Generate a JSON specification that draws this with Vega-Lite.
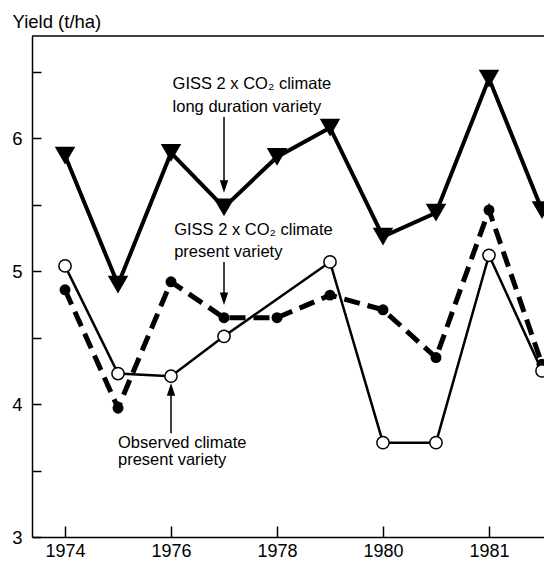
{
  "$schema": "https://vega.github.io/schema/vega-lite/v6.json",
  "width": 512,
  "height": 501,
  "autosize": "none",
  "padding": {"left": 32, "top": 36, "right": 0, "bottom": 24},
  "background": "white",
  "config": {
    "view": {"stroke": null},
    "font": "Liberation Sans",
    "axis": {
      "grid": false,
      "domainColor": "black",
      "domainWidth": 1.5,
      "tickColor": "black",
      "tickWidth": 1.5,
      "labelColor": "black",
      "labelFont": "Liberation Sans",
      "labelFontSize": 18.5,
      "titleColor": "black",
      "titleFont": "Liberation Sans",
      "titleFontWeight": "normal"
    }
  },
  "datasets": {
    "tri": [
      {"year": 1974, "yield": 5.87},
      {"year": 1975, "yield": 4.9},
      {"year": 1976, "yield": 5.89},
      {"year": 1977, "yield": 5.48},
      {"year": 1978, "yield": 5.86},
      {"year": 1979, "yield": 6.08},
      {"year": 1980, "yield": 5.26},
      {"year": 1981, "yield": 5.44},
      {"year": 1982, "yield": 6.45},
      {"year": 1983, "yield": 5.46}
    ],
    "filled": [
      {"year": 1974, "yield": 4.86},
      {"year": 1975, "yield": 3.97},
      {"year": 1976, "yield": 4.92},
      {"year": 1977, "yield": 4.65},
      {"year": 1978, "yield": 4.65},
      {"year": 1979, "yield": 4.82},
      {"year": 1980, "yield": 4.71},
      {"year": 1981, "yield": 4.35},
      {"year": 1982, "yield": 5.46},
      {"year": 1983, "yield": 4.3}
    ],
    "open": [
      {"year": 1974, "yield": 5.04},
      {"year": 1975, "yield": 4.23},
      {"year": 1976, "yield": 4.21},
      {"year": 1977, "yield": 4.51},
      {"year": 1979, "yield": 5.07},
      {"year": 1980, "yield": 3.71},
      {"year": 1981, "yield": 3.71},
      {"year": 1982, "yield": 5.12},
      {"year": 1983, "yield": 4.25}
    ],
    "labels": [
      {"x": 1976.03, "y": 6.37, "text": "GISS 2 x CO₂ climate"},
      {"x": 1976.03, "y": 6.2, "text": "long duration variety"},
      {"x": 1976.06, "y": 5.27, "text": "GISS 2 x CO₂ climate"},
      {"x": 1976.06, "y": 5.11, "text": "present variety"},
      {"x": 1975.0, "y": 3.67, "text": "Observed climate"},
      {"x": 1975.0, "y": 3.54, "text": "present variety"}
    ],
    "shafts": [
      {"x": 1977, "y1": 6.16, "y2": 5.65},
      {"x": 1977, "y1": 5.07, "y2": 4.8},
      {"x": 1976, "y1": 3.78, "y2": 4.1}
    ],
    "heads": [
      {"x": 1977, "y": 5.59, "dir": "down"},
      {"x": 1977, "y": 4.745, "dir": "down"},
      {"x": 1976, "y": 4.158, "dir": "up"}
    ],
    "frame": [{"top": 6.77}]
  },
  "layer": [
    {
      "data": {"name": "frame"},
      "mark": {"type": "rule", "color": "black", "strokeWidth": 1.5},
      "encoding": {
        "y": {"field": "top", "type": "quantitative", "scale": {"domain": [3, 6.77], "nice": false, "zero": false}, "axis": {
          "values": [3, 3.5, 4, 4.5, 5, 5.5, 6, 6.5],
          "labelExpr": "datum.value % 1 == 0 ? format(datum.value, 'd') : ''",
          "tickSize": -9,
          "labelPadding": 19,
          "title": "Yield (t/ha)",
          "titleAngle": 0,
          "titleAlign": "left",
          "titleBaseline": "alphabetic",
          "titleX": -20,
          "titleY": -9,
          "titleFontSize": 18.5
        }}
      }
    },
    {
      "data": {"name": "tri"},
      "mark": {"type": "line", "color": "black", "strokeWidth": 4, "clip": true},
      "encoding": {
        "x": {"field": "year", "type": "quantitative", "scale": {"domain": [1973.377, 1983.038], "nice": false, "zero": false}, "axis": {
          "values": [1974, 1976, 1978, 1980, 1982],
          "format": "d",
          "labelExpr": "datum.value == 1982 ? '1981' : datum.label",
          "labelFontSize": 18,
          "tickSize": -11,
          "labelPadding": 16,
          "title": null
        }},
        "y": {"field": "yield", "type": "quantitative"}
      }
    },
    {
      "data": {"name": "tri"},
      "mark": {"type": "point", "shape": "triangle-down", "filled": true, "color": "black", "size": 420, "opacity": 1, "clip": true},
      "encoding": {
        "x": {"field": "year", "type": "quantitative"},
        "y": {"field": "yield", "type": "quantitative"}
      }
    },
    {
      "data": {"name": "filled"},
      "mark": {"type": "line", "color": "black", "strokeWidth": 5, "strokeDash": [16, 8], "clip": true},
      "encoding": {
        "x": {"field": "year", "type": "quantitative"},
        "y": {"field": "yield", "type": "quantitative"}
      }
    },
    {
      "data": {"name": "filled"},
      "mark": {"type": "point", "shape": "circle", "filled": true, "color": "black", "size": 120, "opacity": 1, "clip": true},
      "encoding": {
        "x": {"field": "year", "type": "quantitative"},
        "y": {"field": "yield", "type": "quantitative"}
      }
    },
    {
      "data": {"name": "open"},
      "mark": {"type": "line", "color": "black", "strokeWidth": 2.5, "clip": true},
      "encoding": {
        "x": {"field": "year", "type": "quantitative"},
        "y": {"field": "yield", "type": "quantitative"}
      }
    },
    {
      "data": {"name": "open"},
      "mark": {"type": "point", "shape": "circle", "filled": true, "fill": "white", "stroke": "black", "strokeWidth": 1.5, "size": 150, "opacity": 1, "clip": true},
      "encoding": {
        "x": {"field": "year", "type": "quantitative"},
        "y": {"field": "yield", "type": "quantitative"}
      }
    },
    {
      "data": {"name": "shafts"},
      "mark": {"type": "rule", "color": "black", "strokeWidth": 1.5},
      "encoding": {
        "x": {"field": "x", "type": "quantitative"},
        "y": {"field": "y1", "type": "quantitative"},
        "y2": {"field": "y2"}
      }
    },
    {
      "data": {"name": "heads"},
      "mark": {"type": "point", "filled": true, "color": "black", "size": 196, "opacity": 1},
      "encoding": {
        "x": {"field": "x", "type": "quantitative"},
        "y": {"field": "y", "type": "quantitative"},
        "shape": {"field": "dir", "type": "nominal", "scale": {"domain": ["down", "up"], "range": ["M0,0L-0.6,-1.8L0.6,-1.8Z", "M0,0L-0.6,1.8L0.6,1.8Z"]}, "legend": null}
      }
    },
    {
      "data": {"name": "labels"},
      "mark": {"type": "text", "align": "left", "baseline": "alphabetic", "font": "Liberation Sans", "fontSize": 16.5, "color": "black"},
      "encoding": {
        "x": {"field": "x", "type": "quantitative"},
        "y": {"field": "y", "type": "quantitative"},
        "text": {"field": "text"}
      }
    }
  ]
}
